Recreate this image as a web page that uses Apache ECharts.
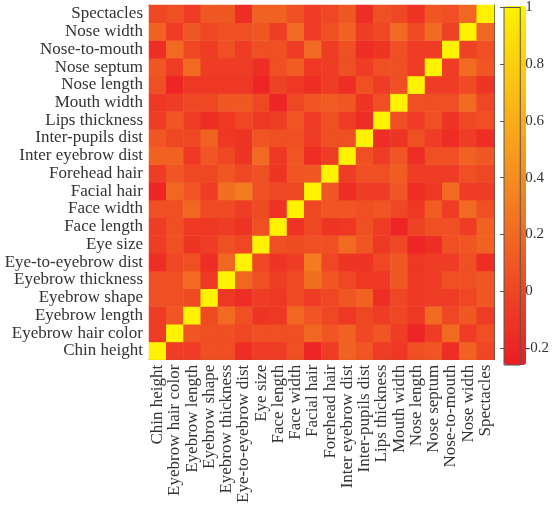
<!DOCTYPE html>
<html><head><meta charset="utf-8">
<script src="https://cdn.jsdelivr.net/npm/echarts@6/dist/echarts.min.js"></script>
<style>html,body{margin:0;padding:0;background:#fff}#c{width:552px;height:506px}</style>
</head><body><div id="c"></div>
<script>
// Feature names, bottom-to-top on the y axis, left-to-right on the x axis
const labels = [
  'Chin height','Eyebrow hair color','Eyebrow length','Eyebrow shape','Eyebrow thickness',
  'Eye-to-eyebrow dist','Eye size','Face length','Face width','Facial hair',
  'Forehead hair','Inter eyebrow dist','Inter-pupils dist','Lips thickness','Mouth width',
  'Nose length','Nose septum','Nose-to-mouth','Nose width','Spectacles'
];

// Lower triangle of the (symmetric) correlation matrix, row i has values for columns 0..i
const rowChinHeight      = [1];
const rowEyebrowHairCol  = [-0.05, 1];
const rowEyebrowLength   = [-0.05, 0.08, 1];
const rowEyebrowShape    = [0.05, 0.05, 0.03, 1];
const rowEyebrowThick    = [0.05, 0.05, 0.2, -0.08, 1];
const rowEyeToEyebrow    = [-0.15, 0.0, 0.05, -0.15, 0.18, 1];
const rowEyeSize         = [-0.05, 0.05, -0.1, -0.05, 0.05, 0.0, 1];
const rowFaceLength      = [-0.05, 0.05, -0.08, -0.08, -0.05, -0.1, 0.05, 1];
const rowFaceWidth       = [0.05, 0.05, 0.18, 0.02, 0.02, -0.05, 0.03, -0.12, 1];
const rowFacialHair      = [-0.2, 0.18, 0.08, -0.05, 0.22, 0.3, 0.05, 0.0, 0.0, 1];
const rowForeheadHair    = [-0.05, 0.08, 0.0, 0.0, 0.08, 0.0, 0.05, -0.1, 0.08, 0.1, 1];
const rowInterEyebrow    = [0.15, 0.15, -0.08, 0.08, 0.0, -0.1, 0.2, -0.08, 0.08, -0.15, -0.05, 1];
const rowInterPupils     = [0.08, 0.0, 0.0, 0.15, -0.08, -0.1, 0.08, 0.05, 0.05, -0.05, 0.05, 0.05, 1];
const rowLipsThickness   = [-0.05, 0.08, -0.05, -0.15, -0.08, 0.0, -0.08, -0.05, 0.08, -0.05, 0.05, -0.05, -0.15, 1];
const rowMouthWidth      = [-0.08, -0.05, 0.0, 0.0, 0.1, 0.1, 0.0, -0.2, 0.0, 0.08, 0.12, 0.08, -0.1, 0.05, 1];
const rowNoseLength      = [0.05, -0.2, -0.08, -0.08, -0.08, -0.08, -0.2, -0.02, -0.08, -0.15, -0.05, -0.15, 0.05, -0.05, 0.05, 1];
const rowNoseSeptum      = [0.08, -0.05, 0.2, -0.05, -0.05, -0.05, -0.15, 0.05, 0.12, -0.08, -0.05, 0.05, -0.05, 0.05, 0.05, -0.05, 1];
const rowNoseToMouth     = [-0.15, 0.2, 0.0, -0.05, 0.05, -0.05, 0.05, 0.05, -0.05, 0.2, -0.05, 0.05, -0.15, -0.1, 0.05, -0.05, -0.05, 1];
const rowNoseWidth       = [0.15, -0.05, 0.1, 0.0, 0.05, 0.05, 0.08, -0.05, 0.2, -0.05, 0.05, 0.15, -0.05, 0.0, 0.2, 0.02, 0.2, -0.02, 1];
const rowSpectacles      = [0.0, 0.05, -0.05, 0.1, 0.1, -0.15, 0.15, 0.15, 0.05, -0.05, 0.0, 0.1, -0.15, 0.05, 0.0, -0.1, 0.08, 0.05, 0.18, 1];

const lowerTri = [
  rowChinHeight, rowEyebrowHairCol, rowEyebrowLength, rowEyebrowShape, rowEyebrowThick,
  rowEyeToEyebrow, rowEyeSize, rowFaceLength, rowFaceWidth, rowFacialHair,
  rowForeheadHair, rowInterEyebrow, rowInterPupils, rowLipsThickness, rowMouthWidth,
  rowNoseLength, rowNoseSeptum, rowNoseToMouth, rowNoseWidth, rowSpectacles
];

// Colorbar
const colorbarTicks = [-0.2, 0, 0.2, 0.4, 0.6, 0.8, 1];
const colorMin = -0.26;
const colorMax = 1;
const colorStops = ['#ED1C24', '#EE3D24', '#F16322', '#F5881F', '#F9AA1A', '#FDCD0E', '#FFF200'];

const data = [];
for (let i = 0; i < labels.length; i++) {
  for (let j = 0; j < labels.length; j++) {
    const v = j <= i ? lowerTri[i][j] : lowerTri[j][i];
    data.push([j, i, v]);
  }
}

const axisColor = '#555';
const textColor = '#333';
const font = 'Liberation Serif';

const catAxisBase = {
  type: 'category', data: labels, gridIndex: 0,
  axisLine: { show: true, lineStyle: { color: axisColor, width: 1 } },
  axisTick: { show: true, inside: true, alignWithLabel: true, length: 4, interval: 0, lineStyle: { color: axisColor } },
  splitLine: { show: false }, splitArea: { show: false }
};

const chart = echarts.init(document.getElementById('c'), null, { renderer: 'canvas' });
chart.setOption({
  animation: false,
  backgroundColor: '#fff',
  textStyle: { fontFamily: font },
  grid: [
    { left: 149, top: 5, width: 345, height: 358, containLabel: false },
    { left: 504, top: 6, width: 22, height: 359, show: true, borderColor: axisColor, borderWidth: 1, backgroundColor: 'transparent', z: 10 }
  ],
  xAxis: [
    Object.assign({}, catAxisBase, {
      position: 'bottom',
      axisLabel: { rotate: 90, fontSize: 17, color: textColor, margin: 5, interval: 0, fontFamily: font }
    }),
    Object.assign({}, catAxisBase, { position: 'top', axisLabel: { show: false } }),
    { type: 'value', gridIndex: 1, min: 0, max: 1, show: false }
  ],
  yAxis: [
    Object.assign({}, catAxisBase, {
      position: 'left',
      axisLabel: { fontSize: 17, color: textColor, margin: 6, interval: 0, fontFamily: font }
    }),
    Object.assign({}, catAxisBase, { position: 'right', axisLabel: { show: false } }),
    {
      type: 'value', gridIndex: 1, min: colorMin, max: colorMax, position: 'right',
      axisLine: { show: false },
      axisTick: { show: true, inside: true, length: 4, customValues: colorbarTicks, lineStyle: { color: axisColor } },
      axisLabel: { show: true, customValues: colorbarTicks, fontSize: 15, color: textColor, margin: 5, fontFamily: font },
      splitLine: { show: false }
    }
  ],
  visualMap: {
    type: 'continuous', min: colorMin, max: colorMax, seriesIndex: 0, dimension: 2,
    calculable: false, show: true, orient: 'vertical',
    left: 504, top: 6, itemWidth: 22, itemHeight: 359, padding: 0,
    text: null, hoverLink: false,
    inRange: { color: colorStops }
  },
  series: [{
    type: 'heatmap', xAxisIndex: 0, yAxisIndex: 0, data: data,
    itemStyle: { borderWidth: 0 },
    emphasis: { disabled: true },
    progressive: 0
  }]
});
</script>
</body></html>
